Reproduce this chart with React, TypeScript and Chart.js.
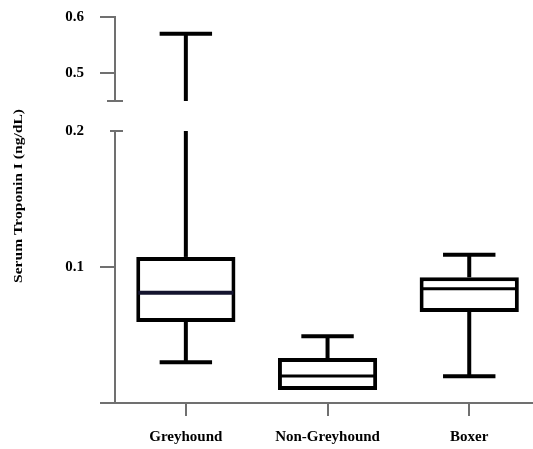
import React, { useEffect, useRef } from 'react';
import { Chart, registerables } from 'chart.js';

Chart.register(...registerables);

// ---- data ----
const categories = ['Greyhound', 'Non-Greyhound', 'Boxer'];
const whiskerMin = [0.03, 0.0096, 0.0196];
const q1 = [0.0596, 0.0096, 0.067];
const median = [0.081, 0.0199, 0.084];
const q3 = [0.1074, 0.033, 0.0924];
const whiskerMax = [0.57, 0.049, 0.109];
const upperTicks = [0.5, 0.6];
const lowerTicks = [0, 0.1, 0.2];
const lowerRange = [0, 0.2];
const upperRange = [0.45, 0.6];
const yTitle = 'Serum Troponin I (ng/dL)';

const AXIS = '#707070';
const FONT = 'Liberation Serif';

const boxPlugin = {
  id: 'boxPlot',
  afterDatasetsDraw(chart: any) {
    const ctx = chart.ctx;
    const xs = chart.scales.x;
    const lo = chart.scales.yLow;
    const hi = chart.scales.yHigh;
    const line = (x1: number, y1: number, x2: number, y2: number) => {
      ctx.beginPath();
      ctx.moveTo(x1, y1);
      ctx.lineTo(x2, y2);
      ctx.stroke();
    };
    const pix = (v: number) => (v > lowerRange[1] ? hi.getPixelForValue(v) : lo.getPixelForValue(v));
    const vseg = (xp: number, a: number, b: number) => {
      const lowTop = Math.min(b, lowerRange[1]);
      if (a < lowTop) line(xp, lo.getPixelForValue(a), xp, lo.getPixelForValue(lowTop));
      if (b > upperRange[0]) line(xp, hi.getPixelForValue(Math.max(a, upperRange[0])), xp, hi.getPixelForValue(b));
    };
    ctx.save();
    ctx.strokeStyle = '#000';
    ctx.lineCap = 'butt';
    categories.forEach((_, i) => {
      const cx = xs.getPixelForValue(i);
      const capHalf = xs.getPixelForValue(i + 0.185) - cx;
      const boxHalf = xs.getPixelForValue(i + 0.35) - cx;
      ctx.lineWidth = 4;
      if (whiskerMax[i] > q3[i]) {
        vseg(cx, q3[i], whiskerMax[i]);
        line(cx - capHalf, pix(whiskerMax[i]), cx + capHalf, pix(whiskerMax[i]));
      }
      if (whiskerMin[i] < q1[i]) {
        vseg(cx, whiskerMin[i], q1[i]);
        line(cx - capHalf, pix(whiskerMin[i]), cx + capHalf, pix(whiskerMin[i]));
      }
      ctx.lineWidth = i === 0 ? 4 : 3;
      ctx.strokeStyle = i === 0 ? '#14142e' : '#000';
      line(cx - boxHalf + 2, pix(median[i]), cx + boxHalf - 2, pix(median[i]));
      ctx.strokeStyle = '#000';
    });
    ctx.restore();
  },
  afterDraw(chart: any) {
    const ctx = chart.ctx;
    const hi = chart.scales.yHigh;
    const lo = chart.scales.yLow;
    const left = chart.chartArea.left;
    ctx.save();
    ctx.strokeStyle = AXIS;
    ctx.lineWidth = 2;
    const yTop = hi.getPixelForValue(upperRange[1]);
    const yBreak = hi.getPixelForValue(upperRange[0]);
    ctx.beginPath();
    ctx.moveTo(left, yTop - 1);
    ctx.lineTo(left, yBreak);
    ctx.moveTo(left - 8, yBreak);
    ctx.lineTo(left + 8, yBreak);
    const yLowTop = lo.getPixelForValue(lowerRange[1]);
    ctx.moveTo(left - 5, yLowTop);
    ctx.lineTo(left + 8, yLowTop);
    ctx.stroke();
    // y title
    ctx.fillStyle = '#000';
    ctx.font = `bold 13px "${FONT}"`;
    ctx.textAlign = 'center';
    ctx.textBaseline = 'middle';
    ctx.translate(19, 196);
    ctx.rotate(-Math.PI / 2);
    ctx.scale(1.2, 1);
    ctx.fillText(yTitle, 0, 0);
    ctx.restore();
  },
};

const fitY = (s: any) => {
  s.width = 115;
  s.paddingTop = 0;
  s.paddingBottom = 0;
};

export default function App() {
  const ref = useRef<HTMLCanvasElement>(null);
  useEffect(() => {
    document.body.style.margin = '0';
    const tickFont = { family: FONT, size: 15, weight: 'bold' as const };
    const chart = new Chart(ref.current!, {
      type: 'bar',
      data: {
        datasets: [
          {
            data: categories.map((_, i) => ({ x: i, y: [q1[i], q3[i]] })) as any,
            yAxisID: 'yLow',
            backgroundColor: '#ffffff',
            borderColor: '#000000',
            borderWidth: 4,
            borderSkipped: false,
            categoryPercentage: 0.7,
            barPercentage: 1,
          },
        ],
      },
      options: {
        animation: false,
        responsive: true,
        maintainAspectRatio: false,
        layout: { padding: { top: 17, left: 0, right: 0, bottom: 0 } },
        plugins: { legend: { display: false }, tooltip: { enabled: false } },
        scales: {
          x: {
            type: 'linear',
            offset: false,
            min: -0.5,
            max: 2.45,
            afterBuildTicks: (s: any) => {
              s.ticks = categories.map((_, i) => ({ value: i }));
            },
            afterFit: (s: any) => {
              s.height = 46;
            },
            ticks: {
              callback: (v: any) => categories[v],
              font: tickFont,
              color: '#000',
              padding: 12,
              maxRotation: 0,
              autoSkip: false,
            },
            grid: { offset: false, drawOnChartArea: false, tickLength: 13, color: AXIS, lineWidth: 2 },
            border: { display: true, color: AXIS, width: 2 },
          },
          yLow: {
            type: 'linear',
            position: 'left',
            stack: 'y',
            stackWeight: 272,
            weight: 0,
            min: lowerRange[0],
            max: lowerRange[1],
            afterBuildTicks: (s: any) => {
              s.ticks = lowerTicks.map((v) => ({ value: v }));
            },
            afterFit: fitY,
            ticks: {
              callback: (v: any) => (v === 0 ? '' : String(v)),
              font: tickFont,
              color: '#000',
              padding: 16,
            },
            grid: {
              drawOnChartArea: false,
              tickLength: 15,
              lineWidth: 2,
              color: AXIS,
              tickColor: (c: any) => (c.tick && c.tick.value === lowerRange[1] ? 'rgba(0,0,0,0)' : AXIS),
            },
            border: { display: true, color: AXIS, width: 2 },
          },
          yHigh: {
            type: 'linear',
            position: 'left',
            stack: 'y',
            stackWeight: 114,
            weight: 1,
            min: 0.3964,
            max: upperRange[1],
            afterBuildTicks: (s: any) => {
              s.ticks = upperTicks.map((v) => ({ value: v }));
            },
            afterFit: fitY,
            ticks: {
              callback: (v: any) => String(v),
              font: tickFont,
              color: '#000',
              padding: 16,
            },
            grid: { drawOnChartArea: false, tickLength: 15, lineWidth: 2, color: AXIS },
            border: { display: false },
          },
        },
      },
      plugins: [boxPlugin],
    });
    return () => chart.destroy();
  }, []);
  return (
    <div style={{ width: 533, height: 449, position: 'relative', background: '#fff' }}>
      <canvas ref={ref} />
    </div>
  );
}
